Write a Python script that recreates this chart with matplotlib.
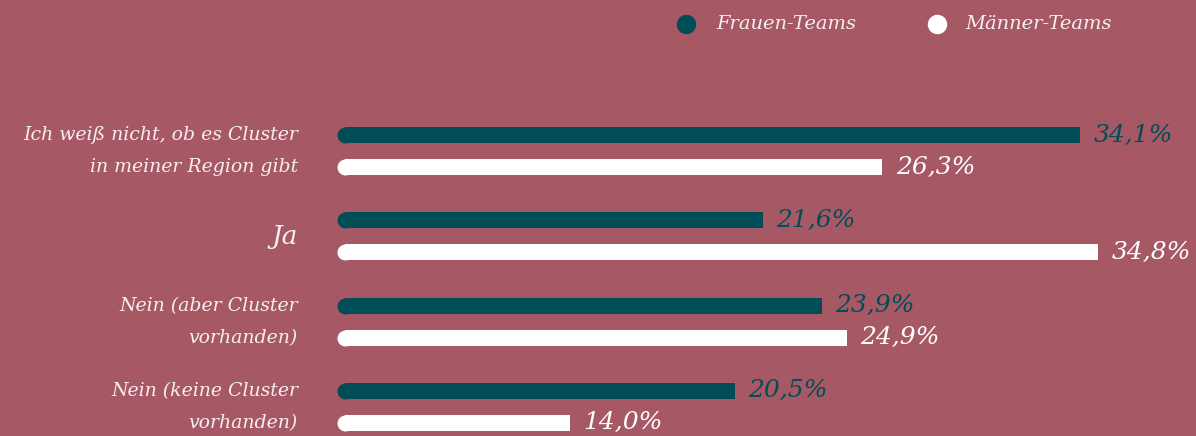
import matplotlib
matplotlib.use("Agg")
import matplotlib.pyplot as plt
from matplotlib.lines import Line2D

# data
categories = ["Ich weiß nicht, ob es Cluster\nin meiner Region gibt",
              "Ja",
              "Nein (aber Cluster\nvorhanden)",
              "Nein (keine Cluster\nvorhanden)"]
frauen = [34.1, 21.6, 23.9, 20.5]
maenner = [26.3, 34.8, 24.9, 14.0]
series_names = ["Frauen-Teams", "Männer-Teams"]

bg = "#A65965"
teal = "#004D57"
white = "#FFFFFF"
txt = "#F7EEF0"
font = "DejaVu Serif"

W, H = 1196, 436
fig = plt.figure(figsize=(W / 100, H / 100), dpi=100, facecolor=bg)

# axes starts where the rounded bar caps are, zero sits further left
ax_left = 345
px_per_unit = 25.38
zero_px = 215
ax = fig.add_axes([ax_left / W, 0, 1 - ax_left / W, 1])
ax.set_facecolor(bg)
x0 = (ax_left - zero_px) / px_per_unit
ax.set_xlim(x0, x0 + (W - ax_left) / px_per_unit)

group_px = 85.3
first_px = 151
ax.set_ylim((H - first_px) / group_px, -first_px / group_px)
ax.axis("off")

off = 0.1875
h = 0.1875
ys = list(range(len(categories)))
y_f = [y - off for y in ys]
y_m = [y + off for y in ys]

ax.barh(y_f, frauen, height=h, left=0, color=teal)
ax.barh(y_m, maenner, height=h, left=0, color=white)
# round left caps
cap = (16 * 0.72) ** 2
ax.scatter([x0] * len(ys), y_f, s=cap, color=teal, clip_on=False, lw=0)
ax.scatter([x0] * len(ys), y_m, s=cap, color=white, clip_on=False, lw=0)

# value labels
for y, v in zip(y_f, frauen):
    ax.annotate(f"{v:.1f}%".replace(".", ","), xy=(v, y), xytext=(9.5, 0),
                textcoords="offset points", va="center", ha="left",
                color=teal, fontsize=18, family=font, style="italic")
for y, v in zip(y_m, maenner):
    ax.annotate(f"{v:.1f}%".replace(".", ","), xy=(v, y), xytext=(9.5, 0),
                textcoords="offset points", va="center", ha="left",
                color=white, fontsize=18, family=font, style="italic")

# category labels
lab_dx = -(ax_left - 298) * 0.72
for y, c in zip(ys, categories):
    lines = c.split("\n")
    if len(lines) == 1:
        ax.annotate(lines[0], xy=(0, y), xycoords=("axes fraction", "data"),
                    xytext=(lab_dx, 0), textcoords="offset points",
                    ha="right", va="center", color=txt, fontsize=19,
                    family=font, style="italic", annotation_clip=False)
    else:
        for yy, ln in zip([y - off, y + off], lines):
            ax.annotate(ln, xy=(0, yy), xycoords=("axes fraction", "data"),
                        xytext=(lab_dx, 0), textcoords="offset points",
                        ha="right", va="center", color=txt, fontsize=13.6,
                        family=font, style="italic", annotation_clip=False)

# legend
for cx, tx, col, name in [(686, 716, teal, series_names[0]),
                          (937, 965, white, series_names[1])]:
    fig.add_artist(Line2D([cx / W], [1 - 24 / H], marker="o", ms=13,
                          color=col, mec=col, transform=fig.transFigure))
    fig.text(tx / W, 1 - 24 / H, name, ha="left", va="center", color=txt,
             fontsize=14, family=font, style="italic")

fig.savefig("out.png", dpi=100, facecolor=bg)
